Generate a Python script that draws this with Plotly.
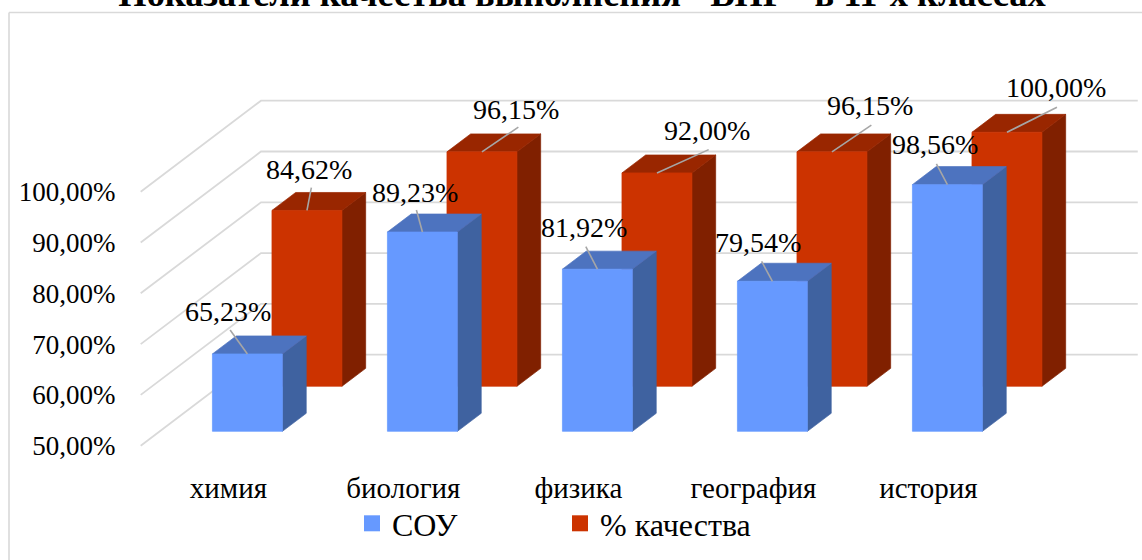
import plotly.graph_objects as go

categories = ["химия", "биология", "физика", "география", "история"]
sou = [65.23, 89.23, 81.92, 79.54, 98.56]
quality = [84.62, 96.15, 92.00, 96.15, 100.00]
y_ticks = [50, 60, 70, 80, 90, 100]

# chart geometry
W, H = 1142, 560
PX_PER_CAT = 175.0
PX_PER_VAL = 5.08
CAT0_PX = 228.4
V50_PX = 445.7
WALL_DX_PX = 120.3
WALL_DY_PX = 91.0
PLOT_L, PLOT_T, PLOT_B = 140, 60, 468
HALF_W = 0.2
BASE = 50.0

FONT = "Liberation Serif"
GRID = "#D9D9D9"
LEADER = "#A6A6A6"


def sx(u, t):
    return u + t * WALL_DX_PX / PX_PER_CAT


def sy(v, t):
    return v + t * WALL_DY_PX / PX_PER_VAL


def px_x(p):
    return (p - PLOT_L) / (W - PLOT_L)


def px_y(p):
    return (PLOT_B - p) / (PLOT_B - PLOT_T)


def polys(values, t0, t1, face):
    xs, ys = [], []
    for i, v in enumerate(values):
        l, r = i - HALF_W, i + HALF_W
        if face == "front":
            pts = [(l, BASE, t0), (r, BASE, t0), (r, v, t0), (l, v, t0)]
        elif face == "top":
            pts = [(l, v, t0), (r, v, t0), (r, v, t1), (l, v, t1)]
        else:
            pts = [(r, BASE, t0), (r, BASE, t1), (r, v, t1), (r, v, t0)]
        xs += [sx(a, c) for a, b, c in pts] + [sx(pts[0][0], pts[0][2]), None]
        ys += [sy(b, c) for a, b, c in pts] + [sy(pts[0][1], pts[0][2]), None]
    return xs, ys


fig = go.Figure()

# gridlines on floor edge / back wall
gx, gy = [], []
u_left = (140.7 - CAT0_PX) / PX_PER_CAT
u_right = u_left + 5.01
for v in y_ticks:
    gx += [sx(u_left, 0), sx(u_left, 1), sx(u_right, 1), None]
    gy += [sy(v, 0), sy(v, 1), sy(v, 1), None]
fig.add_trace(go.Scatter(x=gx, y=gy, mode="lines", line=dict(color=GRID, width=1.8),
                         showlegend=False, hoverinfo="skip"))

series = [
    ("% качества", quality, 0.653, 0.85, "#CC3300", "#992600", "#802000"),
    ("СОУ", sou, 0.158, 0.356, "#6699FF", "#4D73BF", "#3F62A0"),
]
for name, vals, t0, t1, c_front, c_top, c_side in series:
    for face, col in (("side", c_side), ("top", c_top), ("front", c_front)):
        xs, ys = polys(vals, t0, t1, face)
        fig.add_trace(go.Scatter(x=xs, y=ys, mode="lines", fill="toself", fillcolor=col,
                                 line=dict(width=0.7, color=col), showlegend=False,
                                 name=name, hoverinfo="name"))

# legend entries
for name, col in (("СОУ", "#6699FF"), ("% качества", "#CC3300")):
    fig.add_trace(go.Scatter(x=[None], y=[None], mode="markers", name=name,
                             marker=dict(symbol="square", size=16, color=col)))

# data labels and their leader lines (pixel offsets from the bar's top front edge)
sou_off = [(-19.5, -42.3), (-7.3, -40), (-13, -42), (-14, -39), (-12.7, -40)]
qual_off = [(1.7, -40.7), (34.4, -42.7), (49.7, -42.3), (37.7, -46), (49.4, -44.3)]
sou_lead = [(-17.3, -24), (-6, -22), (-11.6, -22.6), (-10.8, -20), (-11, -20.7)]
qual_lead = [(4.4, -22.7), (36.4, -24.7), (51.7, -23.3), (39.4, -26.7), (50, -25)]
lx, ly = [], []
for vals, t0, off, lead in ((quality, 0.653, qual_off, qual_lead), (sou, 0.158, sou_off, sou_lead)):
    for i, v in enumerate(vals):
        x0, y0 = sx(i, t0), sy(v, t0)
        lx += [x0, x0 + lead[i][0] / PX_PER_CAT, None]
        ly += [y0, y0 - lead[i][1] / PX_PER_VAL, None]
        fig.add_annotation(x=x0, y=y0, xshift=off[i][0], yshift=-off[i][1],
                           text=f"{v:.2f}%".replace(".", ","), showarrow=False,
                           xanchor="center", yanchor="middle",
                           font=dict(family=FONT, size=28, color="#000000"),
                           borderpad=0)
fig.add_trace(go.Scatter(x=lx, y=ly, mode="lines", line=dict(color=LEADER, width=1.6),
                         showlegend=False, hoverinfo="skip"))

x_range = [(PLOT_L - CAT0_PX) / PX_PER_CAT, (W - CAT0_PX) / PX_PER_CAT]
y_range = [BASE + (V50_PX - PLOT_B) / PX_PER_VAL, BASE + (V50_PX - PLOT_T) / PX_PER_VAL]

fig.update_layout(
    width=W, height=H, autosize=False,
    margin=dict(l=PLOT_L, r=0, t=PLOT_T, b=H - PLOT_B, pad=0),
    paper_bgcolor="#FFFFFF", plot_bgcolor="rgba(0,0,0,0)",
    font=dict(family=FONT, size=27, color="#000000"),
    title=dict(text="<b>Показатели качества выполнения \"ВПР\" в 11-х классах</b>",
               x=582 / W, xanchor="center", y=1.0, yanchor="bottom",
               pad=dict(b=-6),
               font=dict(family=FONT, size=36.4, color="#000000")),
    xaxis=dict(range=x_range, tickmode="array", tickvals=list(range(len(categories))),
               ticktext=categories, showgrid=False, zeroline=False, showline=False,
               ticks="", fixedrange=True, tickfont=dict(family=FONT, size=29)),
    yaxis=dict(range=y_range, tickmode="array", tickvals=y_ticks,
               ticktext=[f"{v:.2f}%".replace(".", ",") for v in y_ticks],
               showgrid=False, zeroline=False, showline=False,
               ticks="outside", ticklen=18, tickcolor="rgba(0,0,0,0)", fixedrange=True,
               tickfont=dict(family=FONT, size=27)),
    legend=dict(orientation="h", x=px_x(352), xanchor="left", y=px_y(496), yanchor="top",
                entrywidthmode="pixels", entrywidth=163, traceorder="normal",
                bgcolor="rgba(0,0,0,0)", font=dict(family=FONT, size=32)),
    shapes=[
        dict(type="line", xref="paper", yref="paper", x0=px_x(9), x1=1,
             y0=px_y(12.5), y1=px_y(12.5), line=dict(color=GRID, width=1.6)),
        dict(type="line", xref="paper", yref="paper", x0=px_x(9), x1=px_x(9),
             y0=px_y(H), y1=px_y(12.5), line=dict(color=GRID, width=1.6)),
    ],
)

fig.write_html("out.html", config={"displayModeBar": False},
               post_script="document.body.style.margin='0';")
